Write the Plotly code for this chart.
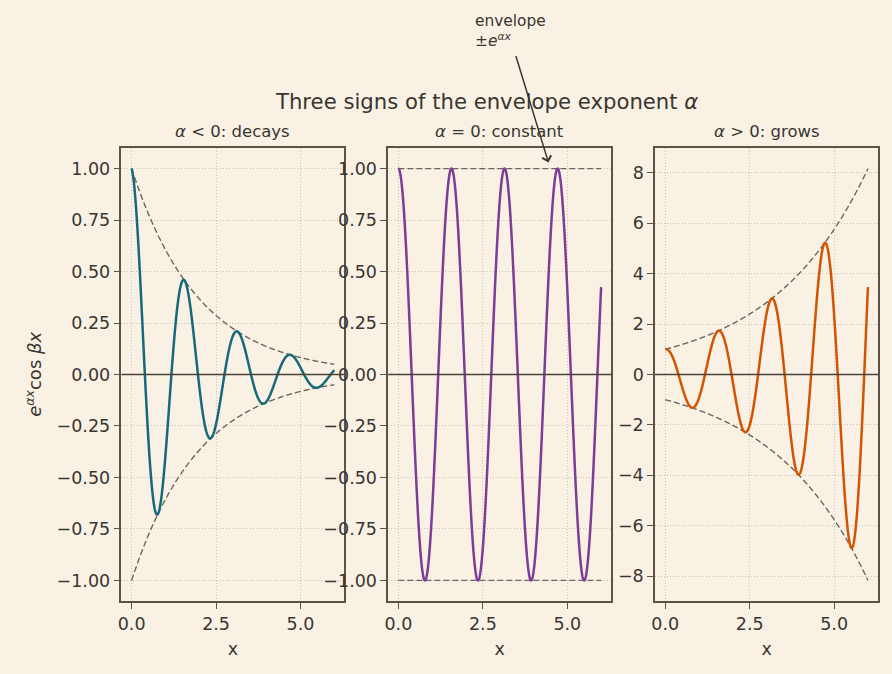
import numpy as np
import plotly.graph_objects as go

# Parameters
alphas = [-0.5, 0.0, 0.35]
beta = 4.0
x_max = 6.0
n_pts = 800
titles = ["<i>α</i> < 0: decays", "<i>α</i> = 0: constant", "<i>α</i> > 0: grows"]
colors = ["#17697a", "#7d3c98", "#d35400"]
y_ticks_small = [-1.0, -0.75, -0.5, -0.25, 0.0, 0.25, 0.5, 0.75, 1.0]
y_ticks_big = [-8, -6, -4, -2, 0, 2, 4, 6, 8]
x_ticks = [0.0, 2.5, 5.0]

BG = "#f9f2e4"
INK = "#3a3530"
SPINE = "#5c5245"
ENV = "#6b655b"
GRID = "#c9c2b4"
FONT = "DejaVu Sans"
TICK_SIZE = 17.5

W, H = 892, 674
xdoms = [(118 / W, 342 / W), (386 / W, 610 / W), (654 / W, 878 / W)]
ydom = (1 - 601 / H, 1 - 148 / H)

x = np.linspace(0, x_max, n_pts)
fig = go.Figure()
for i, a in enumerate(alphas):
    k = "" if i == 0 else str(i + 1)
    env = np.exp(a * x)
    y = env * np.cos(beta * x)
    for s in (1, -1):
        fig.add_trace(go.Scatter(x=x, y=s * env, mode="lines", xaxis="x" + k, yaxis="y" + k,
                                 line=dict(color=ENV, width=1.4, dash="6px,3px", simplify=False),
                                 showlegend=False, hoverinfo="skip"))
    fig.add_trace(go.Scatter(x=x, y=y, mode="lines", xaxis="x" + k, yaxis="y" + k,
                             line=dict(color=colors[i], width=2.5, simplify=False), showlegend=False))
    emax = float(np.exp(abs(a) * x_max)) if a > 0 else 1.0
    ypad = emax * 1.1
    ax_common = dict(showline=True, mirror=True, linecolor=SPINE, linewidth=1.6,
                     ticks="outside", ticklen=6, tickwidth=1.4, tickcolor=SPINE,
                     showgrid=True, gridcolor=GRID, gridwidth=0.8, griddash="1px,2px",
                     zeroline=False, tickfont=dict(family=FONT, size=TICK_SIZE, color=INK))
    fig.layout["xaxis" + k] = dict(domain=list(xdoms[i]), anchor="y" + k, range=[-0.3, 6.3],
                                   tickvals=x_ticks, ticktext=[f"{v:.1f}" for v in x_ticks],
                                   title=dict(text="x", font=dict(family=FONT, size=TICK_SIZE, color=INK), standoff=10),
                                   **ax_common)
    if a > 0:
        yt = dict(tickvals=y_ticks_big, ticktext=[f"{v:d}".replace("-", "−") for v in y_ticks_big])
    else:
        yt = dict(tickvals=y_ticks_small, ticktext=[f"{v:.2f}".replace("-", "−") for v in y_ticks_small])
    fig.layout["yaxis" + k] = dict(domain=list(ydom), anchor="x" + k, range=[-ypad, ypad], **yt, **ax_common)
    # zero line
    fig.add_shape(type="line", xref=("x" + k) + " domain", yref="y" + k, x0=0, x1=1, y0=0, y1=0,
                  line=dict(color="#4a4238", width=1.4), layer="above")
    # subplot title
    fig.add_annotation(text=titles[i], xref="paper", yref="paper",
                       x=(xdoms[i][0] + xdoms[i][1]) / 2, y=1 - 131 / H, showarrow=False,
                       font=dict(family=FONT, size=16.5, color=INK), xanchor="center", yanchor="middle")

# y-axis label
fig.add_annotation(text="<i>e</i><sup><i>αx</i></sup>cos <i>βx</i>", xref="paper", yref="paper",
                   x=30 / W, y=1 - 374 / H, showarrow=False, textangle=-90,
                   xanchor="center", yanchor="middle",
                   font=dict(family=FONT, size=18, color=INK))

# suptitle
fig.add_annotation(text="Three signs of the envelope exponent <i>α</i>", xref="paper", yref="paper",
                   x=485 / W, y=1 - 101 / H, showarrow=False, xanchor="center", yanchor="middle",
                   font=dict(family=FONT, size=21.2, color=INK))
# envelope annotation
fig.add_annotation(text="envelope<br>±<i>e</i><sup><i>αx</i></sup>", xref="paper", yref="paper",
                   x=471 / W, y=1 - 10 / H, showarrow=False, xanchor="left", yanchor="top", align="left",
                   font=dict(family=FONT, size=15.4, color=INK))
fig.add_annotation(text="", xref="x2", yref="y2", x=4.44, y=1.03, showarrow=True,
                   axref="pixel", ayref="pixel", ax=-33, ay=-108,
                   arrowhead=4, arrowsize=1.2, arrowwidth=1.5, arrowcolor=INK)

fig.update_layout(width=W, height=H, margin=dict(l=0, r=0, t=0, b=0),
                  paper_bgcolor=BG, plot_bgcolor=BG, font=dict(family=FONT, color=INK))
fig.write_html("out.html")
